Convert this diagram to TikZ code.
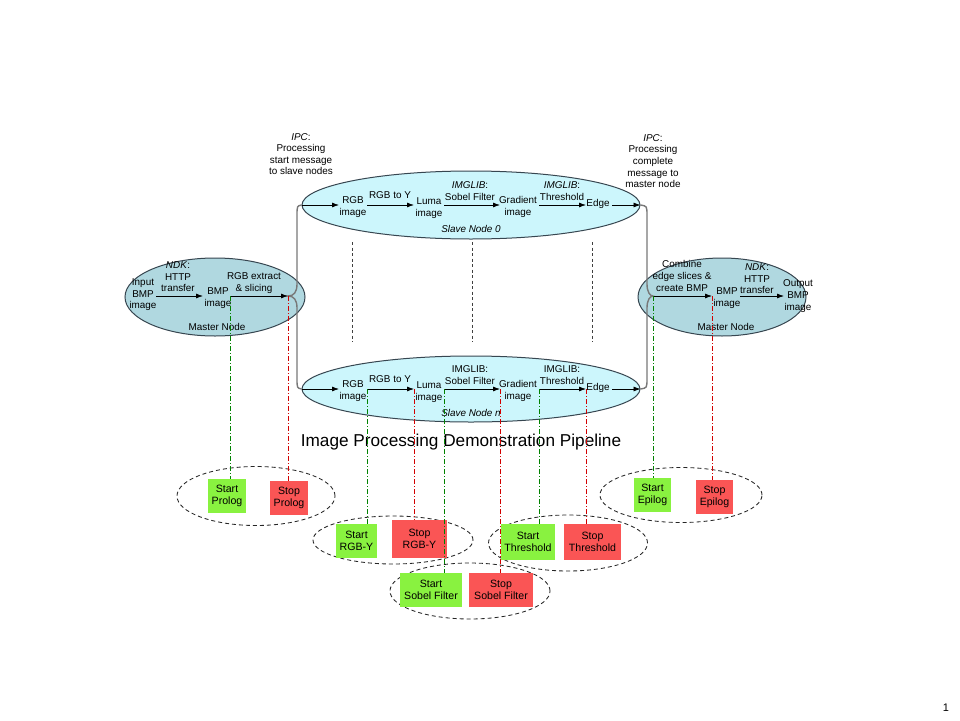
\documentclass[tikz,border=0pt]{standalone}
\usepackage{fontspec}
\setmainfont{Liberation Sans}
\usetikzlibrary{arrows.meta,shapes.geometric}
\definecolor{masterfill}{RGB}{176,216,224}
\definecolor{slavefill}{RGB}{204,246,252}
\definecolor{ellborder}{RGB}{55,70,80}
\definecolor{busgray}{RGB}{120,120,120}
\definecolor{boxgreen}{RGB}{137,242,64}
\definecolor{boxred}{RGB}{250,85,85}
\definecolor{lgreen}{RGB}{0,130,0}
\definecolor{lred}{RGB}{210,0,0}
\begin{document}
\begin{tikzpicture}[x=1pt,y=-1pt,
  lbl/.style={align=center,inner sep=0pt,font=\fontsize{9.9}{11.6}\selectfont},
  arr/.style={-{Latex[length=7pt,width=5pt]},line width=0.75pt,black},
  bus/.style={line width=1.4pt,busgray},
  masterell/.style={ellipse,draw=ellborder,fill=masterfill,line width=1pt,inner sep=0pt},
  slaveell/.style={ellipse,draw=ellborder,fill=slavefill,line width=1pt,inner sep=0pt},
  grpell/.style={ellipse,draw=black!85,dash pattern=on 4pt off 3pt,line width=0.85pt,inner sep=0pt},
  sepline/.style={dash pattern=on 3pt off 2.5pt,line width=0.8pt,black!75},
  boxtxt/.style={align=center,inner sep=0pt,font=\fontsize{10.6}{12.4}\selectfont},
  gbox/.style={boxtxt,fill=boxgreen},
  rbox/.style={boxtxt,fill=boxred},
  gconn/.style={lgreen,dash pattern=on 5pt off 2pt on 1pt off 2pt,line width=0.65pt},
  rconn/.style={lred,dash pattern=on 5pt off 2pt on 1pt off 2pt,line width=0.65pt}]
\useasboundingbox[fill=white] (0,0) rectangle (960,720);

% ---------------- ellipses ----------------
\node[masterell,minimum width=180pt,minimum height=78pt] (ml) at (215,297) {};
\node[masterell,minimum width=168pt,minimum height=78pt] (mr) at (722,297) {};
\node[slaveell,minimum width=338pt,minimum height=68pt] (s0) at (471,205) {};
\node[slaveell,minimum width=338pt,minimum height=66pt] (sn) at (471,389) {};

% ---------------- arrow coordinates ----------------
\coordinate (la1s) at (156,296); \coordinate (la1e) at (203,296);
\coordinate (la2s) at (230,296); \coordinate (la2e) at (288,296);
\coordinate (ra1s) at (653,296); \coordinate (ra1e) at (712,296);
\coordinate (ra2s) at (740,296); \coordinate (ra2e) at (784,296);

\coordinate (z1e) at (339,205);
\coordinate (z2s) at (367,205); \coordinate (z2e) at (414,205);
\coordinate (z3s) at (444,205); \coordinate (z3e) at (500,205);
\coordinate (z4s) at (539,205); \coordinate (z4e) at (586,205);
\coordinate (z5s) at (612,205);

\coordinate (n1e) at (339,389);
\coordinate (n2s) at (367,389); \coordinate (n2e) at (414,389);
\coordinate (n3s) at (444,389); \coordinate (n3e) at (500,389);
\coordinate (n4s) at (539,389); \coordinate (n4e) at (586,389);
\coordinate (n5s) at (612,389);

% ---------------- bus lines (braces) ----------------
\draw[bus] (s0.west) .. controls (297,206) .. (297,216) -- (297,284)
  .. controls (297,292) and (294,296) .. (la2e)
  .. controls (294,296) and (297,300) .. (297,308) -- (297,378)
  .. controls (297,388) .. (sn.west);
\draw[bus] (s0.east) .. controls (647,206) .. (647,216) -- (647,284)
  .. controls (647,292) and (650,296) .. (ra1s)
  .. controls (650,296) and (647,300) .. (647,308) -- (647,378)
  .. controls (647,388) .. (sn.east);

% ---------------- separators ----------------
\coordinate (sp1t) at (352,242); \coordinate (sp1b) at (352,342);
\coordinate (sp2t) at (472,242); \coordinate (sp2b) at (472,342);
\coordinate (sp3t) at (592,242); \coordinate (sp3b) at (592,342);
\draw[sepline] (sp1t) -- (sp1b);
\draw[sepline] (sp2t) -- (sp2b);
\draw[sepline] (sp3t) -- (sp3b);

% ---------------- left master ----------------
\node[lbl] (inl) at (143,295) {Input\\BMP\\image};
\node[lbl] (ndkl) at (178,277) {\textit{NDK}:\\HTTP\\transfer};
\node[lbl] (bmpl) at (218,298) {BMP\\image};
\node[lbl] (rgbx) at (254,283) {RGB extract\\\& slicing};
\node[lbl] (mlt) at (217,327) {Master Node};
\draw[arr] (la1s) -- (la1e);
\draw[arr] (la2s) -- (la2e);

% ---------------- right master ----------------
\node[lbl] (comb) at (682,276) {Combine\\edge slices \&\\create BMP};
\node[lbl] (bmpr) at (727,298) {BMP\\image};
\node[lbl] (ndkr) at (757,279) {\textit{NDK}:\\HTTP\\transfer};
\node[lbl] (outr) at (798,296) {Output\\BMP\\image};
\node[lbl] (mrt) at (726,327) {Master Node};
\draw[arr] (ra1s) -- (ra1e);
\draw[arr] (ra2s) -- (ra2e);

% ---------------- slave node 0 ----------------
\node[lbl] (z1) at (353,207) {RGB\\image};
\node[lbl] (z1l) at (390,195) {RGB to Y};
\node[lbl] (z2) at (429,208) {Luma\\image};
\node[lbl] (z2l) at (470,191) {\textit{IMGLIB}:\\Sobel Filter};
\node[lbl] (z3) at (518,207) {Gradient\\image};
\node[lbl] (z3l) at (562,191) {\textit{IMGLIB}:\\Threshold};
\node[lbl] (z4) at (598,204) {Edge};
\node[lbl] (z0t) at (471,229) {\textit{Slave Node 0}};
\draw[arr] (s0.west) -- (z1e);
\draw[arr] (z2s) -- (z2e);
\draw[arr] (z3s) -- (z3e);
\draw[arr] (z4s) -- (z4e);
\draw[arr] (z5s) -- (s0.east);

% ---------------- slave node n ----------------
\node[lbl] (n1) at (353,391) {RGB\\image};
\node[lbl] (n1l) at (390,379) {RGB to Y};
\node[lbl] (n2) at (429,392) {Luma\\image};
\node[lbl] (n2l) at (470,375) {IMGLIB:\\Sobel Filter};
\node[lbl] (n3) at (518,391) {Gradient\\image};
\node[lbl] (n3l) at (562,375) {IMGLIB:\\Threshold};
\node[lbl] (n4) at (598,388) {Edge};
\node[lbl] (nnt) at (471,413) {\textit{Slave Node n}};
\draw[arr] (sn.west) -- (n1e);
\draw[arr] (n2s) -- (n2e);
\draw[arr] (n3s) -- (n3e);
\draw[arr] (n4s) -- (n4e);
\draw[arr] (n5s) -- (sn.east);

% ---------------- IPC labels ----------------
\node[lbl] (ipcl) at (301,154) {\textit{IPC}:\\Processing\\start message\\to slave nodes};
\node[lbl] (ipcr) at (653,161) {\textit{IPC}:\\Processing\\complete\\message to\\master node};

% ---------------- title ----------------
\node[inner sep=0pt,font=\fontsize{17.2}{20}\selectfont] (title) at (461,442) {Image Processing Demonstration Pipeline};

% ---------------- groups ----------------
\node[grpell,minimum width=158pt,minimum height=59pt] (gpro) at (256,496) {};
\node[grpell,minimum width=160pt,minimum height=48pt] (grgb) at (393,540) {};
\node[grpell,minimum width=160pt,minimum height=56pt] (gsob) at (470,591) {};
\node[grpell,minimum width=159pt,minimum height=56pt] (gthr) at (568,543) {};
\node[grpell,minimum width=162pt,minimum height=55pt] (gepi) at (681,495) {};

\node[gbox,minimum width=38pt,minimum height=34pt] (b1) at (227,496) {Start\\Prolog};
\node[rbox,minimum width=38pt,minimum height=34pt] (b2) at (289,498) {Stop\\Prolog};
\node[gbox,minimum width=41pt,minimum height=34pt] (b3) at (356.5,541) {Start\\RGB-Y};
\node[rbox,minimum width=55pt,minimum height=38pt] (b4) at (419.5,539) {Stop\\RGB-Y};
\node[gbox,minimum width=62pt,minimum height=34pt] (b5) at (431,590) {Start\\Sobel Filter};
\node[rbox,minimum width=64pt,minimum height=34pt] (b6) at (501,590) {Stop\\Sobel Filter};
\node[gbox,minimum width=54pt,minimum height=36pt] (b7) at (528,542) {Start\\Threshold};
\node[rbox,minimum width=57pt,minimum height=36pt] (b8) at (592.5,542) {Stop\\Threshold};
\node[gbox,minimum width=37pt,minimum height=34pt] (b9) at (652.5,495) {Start\\Epilog};
\node[rbox,minimum width=37pt,minimum height=34pt] (b10) at (714.5,497) {Stop\\Epilog};

% ---------------- trace connectors ----------------
\draw[gconn] (la2s) -- (la2s |- b1.north);
\draw[rconn] (la2e) -- (la2e |- b2.north);
\draw[gconn] (n2s) -- (n2s |- b3.north);
\draw[rconn] (n2e) -- (n2e |- b4.north);
\draw[gconn] (n3s) -- (n3s |- b5.north);
\draw[rconn] (n3e) -- (n3e |- b6.north);
\draw[gconn] (n4s) -- (n4s |- b7.north);
\draw[rconn] (n4e) -- (n4e |- b8.north);
\draw[gconn] (ra1s) -- (ra1s |- b9.north);
\draw[rconn] (ra1e) -- (ra1e |- b10.north);

% ---------------- page number ----------------
\node[inner sep=0pt,font=\fontsize{11}{13}\selectfont] (pg) at (946,708) {1};
\end{tikzpicture}
\end{document}
